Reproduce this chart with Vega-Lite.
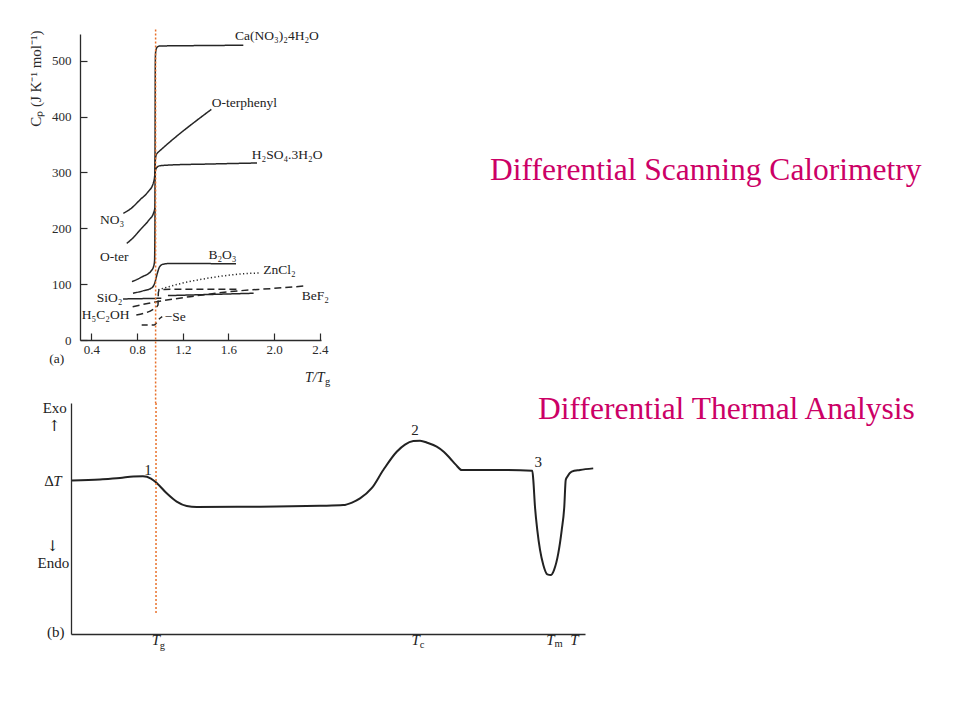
{
  "$schema": "https://vega.github.io/schema/vega-lite/v6.json",
  "padding": {"left": 27, "top": 28, "right": 10, "bottom": 10},
  "background": "white",
  "bounds": "flush",
  "spacing": 63,
  "config": {
    "view": {"stroke": null},
    "font": "Liberation Serif",
    "axis": {"labelFont": "Liberation Serif", "titleFont": "Liberation Serif", "domainColor": "#2a2a2a", "tickColor": "#2a2a2a", "labelColor": "#2a2a2a", "titleColor": "#2a2a2a", "grid": false, "domainWidth": 1.3, "tickWidth": 1.2},
    "text": {"font": "Liberation Serif", "color": "#222222"}
  },
  "datasets": {
    "cp": [
      {"series": "Ca(NO3)2·4H2O", "T": 0.679, "Cp": 227},
      {"series": "Ca(NO3)2·4H2O", "T": 0.75, "Cp": 236},
      {"series": "Ca(NO3)2·4H2O", "T": 0.825, "Cp": 251},
      {"series": "Ca(NO3)2·4H2O", "T": 0.89, "Cp": 264},
      {"series": "Ca(NO3)2·4H2O", "T": 0.942, "Cp": 281},
      {"series": "Ca(NO3)2·4H2O", "T": 0.955, "Cp": 296},
      {"series": "Ca(NO3)2·4H2O", "T": 0.957, "Cp": 340},
      {"series": "Ca(NO3)2·4H2O", "T": 0.958, "Cp": 420},
      {"series": "Ca(NO3)2·4H2O", "T": 0.959, "Cp": 490},
      {"series": "Ca(NO3)2·4H2O", "T": 0.961, "Cp": 512},
      {"series": "Ca(NO3)2·4H2O", "T": 0.966, "Cp": 520},
      {"series": "Ca(NO3)2·4H2O", "T": 0.978, "Cp": 525},
      {"series": "Ca(NO3)2·4H2O", "T": 1.0, "Cp": 526.5},
      {"series": "Ca(NO3)2·4H2O", "T": 1.2, "Cp": 527},
      {"series": "Ca(NO3)2·4H2O", "T": 1.5, "Cp": 527.5},
      {"series": "Ca(NO3)2·4H2O", "T": 1.73, "Cp": 528},
      {"series": "o-terphenyl", "T": 0.709, "Cp": 173},
      {"series": "o-terphenyl", "T": 0.77, "Cp": 184},
      {"series": "o-terphenyl", "T": 0.825, "Cp": 197},
      {"series": "o-terphenyl", "T": 0.9, "Cp": 214},
      {"series": "o-terphenyl", "T": 0.945, "Cp": 228},
      {"series": "o-terphenyl", "T": 0.955, "Cp": 236},
      {"series": "o-terphenyl", "T": 0.957, "Cp": 280},
      {"series": "o-terphenyl", "T": 0.959, "Cp": 320},
      {"series": "o-terphenyl", "T": 0.965, "Cp": 330},
      {"series": "o-terphenyl", "T": 0.978, "Cp": 335},
      {"series": "o-terphenyl", "T": 0.994, "Cp": 338},
      {"series": "o-terphenyl", "T": 1.45, "Cp": 413},
      {"series": "H2SO4·3H2O", "T": 0.956, "Cp": 290},
      {"series": "H2SO4·3H2O", "T": 0.958, "Cp": 300},
      {"series": "H2SO4·3H2O", "T": 0.964, "Cp": 306},
      {"series": "H2SO4·3H2O", "T": 0.978, "Cp": 310},
      {"series": "H2SO4·3H2O", "T": 1.0, "Cp": 312},
      {"series": "H2SO4·3H2O", "T": 1.1, "Cp": 313.5},
      {"series": "H2SO4·3H2O", "T": 1.4, "Cp": 315},
      {"series": "H2SO4·3H2O", "T": 1.85, "Cp": 317},
      {"series": "glass branch", "T": 0.755, "Cp": 104.5},
      {"series": "glass branch", "T": 0.843, "Cp": 113},
      {"series": "glass branch", "T": 0.924, "Cp": 124},
      {"series": "glass branch", "T": 0.945, "Cp": 132},
      {"series": "glass branch", "T": 0.953, "Cp": 142},
      {"series": "glass branch", "T": 0.956, "Cp": 200},
      {"series": "glass branch", "T": 0.957, "Cp": 236},
      {"series": "B2O3", "T": 0.764, "Cp": 83.7},
      {"series": "B2O3", "T": 0.85, "Cp": 88},
      {"series": "B2O3", "T": 0.924, "Cp": 92.7},
      {"series": "B2O3", "T": 0.954, "Cp": 101.6},
      {"series": "B2O3", "T": 0.977, "Cp": 119.5},
      {"series": "B2O3", "T": 0.998, "Cp": 131.4},
      {"series": "B2O3", "T": 1.027, "Cp": 135.7},
      {"series": "B2O3", "T": 1.088, "Cp": 137},
      {"series": "B2O3", "T": 1.666, "Cp": 136.5},
      {"series": "ZnCl2", "T": 0.985, "Cp": 90},
      {"series": "ZnCl2", "T": 1.2, "Cp": 102},
      {"series": "ZnCl2", "T": 1.4, "Cp": 110},
      {"series": "ZnCl2", "T": 1.6, "Cp": 116},
      {"series": "ZnCl2", "T": 1.8, "Cp": 119.5},
      {"series": "ZnCl2", "T": 1.88, "Cp": 120},
      {"series": "SiO2", "T": 0.677, "Cp": 73.5},
      {"series": "SiO2", "T": 1.012, "Cp": 74.7},
      {"series": "SiO2 liquid", "T": 1.07, "Cp": 79.5},
      {"series": "SiO2 liquid", "T": 1.82, "Cp": 83.7},
      {"series": "BeF2", "T": 0.761, "Cp": 59.7},
      {"series": "BeF2", "T": 0.957, "Cp": 68},
      {"series": "BeF2", "T": 1.263, "Cp": 77.6},
      {"series": "BeF2", "T": 1.613, "Cp": 86.6},
      {"series": "BeF2", "T": 2.0, "Cp": 92.5},
      {"series": "BeF2", "T": 2.27, "Cp": 96.8},
      {"series": "H5C2OH", "T": 0.793, "Cp": 44.8},
      {"series": "H5C2OH", "T": 0.954, "Cp": 56.8},
      {"series": "H5C2OH", "T": 0.983, "Cp": 62.7},
      {"series": "H5C2OH", "T": 0.986, "Cp": 85},
      {"series": "H5C2OH", "T": 0.995, "Cp": 90},
      {"series": "H5C2OH", "T": 1.1, "Cp": 91},
      {"series": "H5C2OH", "T": 1.67, "Cp": 91},
      {"series": "Se", "T": 0.84, "Cp": 26.9},
      {"series": "Se", "T": 0.95, "Cp": 26.9},
      {"series": "Se", "T": 0.97, "Cp": 31},
      {"series": "Se", "T": 0.985, "Cp": 35.8},
      {"series": "Se", "T": 1.02, "Cp": 42}
    ],
    "cpTg": [{"event": "Tg", "T": 0.962, "Cp": 556, "Cp_end": -113}],
    "cpLabels": [
      {"T": 1.657, "Cp": 544.8, "text": "Ca(NO₃)₂4H₂O"},
      {"T": 1.453, "Cp": 424, "text": "O-terphenyl"},
      {"T": 1.803, "Cp": 331.5, "text": "H₂SO₄.3H₂O"},
      {"T": 0.475, "Cp": 215, "text": "NO₃"},
      {"T": 0.475, "Cp": 148.7, "text": "O-ter"},
      {"T": 1.424, "Cp": 152.3, "text": "B₂O₃"},
      {"T": 1.905, "Cp": 125.4, "text": "ZnCl₂"},
      {"T": 0.446, "Cp": 75.3, "text": "SiO₂"},
      {"T": 2.241, "Cp": 78.9, "text": "BeF₂"},
      {"T": 0.315, "Cp": 44.8, "text": "H₅C₂OH"},
      {"T": 1.042, "Cp": 41.2, "text": "−Se"},
      {"T": 0.031, "Cp": -34, "text": "(a)"}
    ],
    "cpItalic": [{"T": 2.27, "Cp": -68, "text": "T/T"}],
    "cpSub": [{"T": 2.445, "Cp": -76, "text": "g"}],
    "cpHeading": [{"T": 3.89, "Cp": 286.7, "text": "Differential Scanning Calorimetry"}],
    "dta": [
      {"t": 0.2, "d": 66.4}, {"t": 5.64, "d": 66.9}, {"t": 9.53, "d": 67.5}, {"t": 12.12, "d": 68.2},
      {"t": 14.0, "d": 68.3}, {"t": 15.56, "d": 67.3}, {"t": 16.67, "d": 65.4}, {"t": 18.62, "d": 60.9},
      {"t": 20.56, "d": 57.3}, {"t": 22.51, "d": 55.4}, {"t": 24.46, "d": 55.0}, {"t": 36.77, "d": 55.1},
      {"t": 48.44, "d": 55.5}, {"t": 52.98, "d": 55.8}, {"t": 54.67, "d": 56.9}, {"t": 56.23, "d": 58.7},
      {"t": 58.5, "d": 63.1}, {"t": 60.76, "d": 71.0}, {"t": 63.37, "d": 78.9}, {"t": 64.98, "d": 82.0},
      {"t": 66.6, "d": 83.5}, {"t": 67.9, "d": 83.7}, {"t": 69.46, "d": 82.7}, {"t": 71.15, "d": 81.1},
      {"t": 72.57, "d": 78.8}, {"t": 73.74, "d": 76.1}, {"t": 74.9, "d": 73.2}, {"t": 76.01, "d": 71.0},
      {"t": 83.46, "d": 71.0}, {"t": 89.75, "d": 70.7}, {"t": 89.94, "d": 66.7}, {"t": 90.27, "d": 55.1},
      {"t": 90.72, "d": 45.0}, {"t": 91.25, "d": 36.4}, {"t": 91.89, "d": 29.9}, {"t": 92.67, "d": 25.8},
      {"t": 93.33, "d": 25.5}, {"t": 93.97, "d": 27.7}, {"t": 94.8, "d": 34.9}, {"t": 95.47, "d": 45.0},
      {"t": 95.97, "d": 55.1}, {"t": 96.25, "d": 66.7}, {"t": 96.56, "d": 68.1}, {"t": 97.41, "d": 70.3},
      {"t": 99.03, "d": 71.0}, {"t": 101.6, "d": 71.7}
    ],
    "dtaTg": [{"event": "Tg", "t": 16.54, "d": 100, "d_end": 8.2}],
    "dtaLabels": [
      {"t": -3.17, "d": 97.7, "text": "Exo"},
      {"t": -3.44, "d": 30.6, "text": "Endo"},
      {"t": -2.96, "d": 0.65, "text": "(b)"},
      {"t": 14.98, "d": 71.0, "text": "1"},
      {"t": 66.93, "d": 88.3, "text": "2"},
      {"t": 90.92, "d": 74.5, "text": "3"},
      {"t": -4.28, "d": 66.2, "text": "Δ"}
    ],
    "dtaArrows": [
      {"t": -3.27, "d": 90.0, "text": "↑"},
      {"t": -3.6, "d": 38.2, "text": "↓"}
    ],
    "dtaItalic": [
      {"t": -2.63, "d": 66.2, "text": "T"},
      {"t": 16.5, "d": -2.6, "text": "T"},
      {"t": 67.08, "d": -2.6, "text": "T"},
      {"t": 93.25, "d": -2.6, "text": "T"},
      {"t": 97.96, "d": -2.6, "text": "T"}
    ],
    "dtaSub": [
      {"t": 17.8, "d": -5.0, "text": "g"},
      {"t": 68.3, "d": -4.8, "text": "c"},
      {"t": 94.88, "d": -4.3, "text": "m"}
    ],
    "dtaHeading": [{"t": 90.86, "d": 92.9, "text": "Differential Thermal Analysis"}]
  },
  "vconcat": [
    {
      "width": 241,
      "height": 306,
      "encoding": {
        "x": {"field": "T", "type": "quantitative",
          "scale": {"domain": [0.3, 2.41], "nice": false, "zero": false},
          "axis": {"values": [0.4, 0.8, 1.2, 1.6, 2.0, 2.4], "format": ".1f", "title": null, "tickSize": -7, "labelPadding": 10, "labelFontSize": 13}},
        "y": {"field": "Cp", "type": "quantitative",
          "scale": {"domain": [0, 548], "nice": false, "zero": false},
          "axis": {"values": [0, 100, 200, 300, 400, 500], "tickSize": -7, "labelPadding": 16, "labelFontSize": 13,
            "title": "Cₚ (J K⁻¹ mol⁻¹)", "titleFontSize": 15, "titleFontWeight": "normal", "titleAnchor": "end", "titleAngle": -90, "titleX": -37, "titleY": -4}}
      },
      "layer": [
        {
          "data": {"name": "cp"},
          "mark": {"type": "line", "strokeWidth": 1.5, "color": "#262626", "interpolate": "monotone"},
          "encoding": {
            "detail": {"field": "series"},
            "strokeDash": {"field": "series", "type": "nominal", "legend": null,
              "scale": {"domain": ["Ca(NO3)2·4H2O", "o-terphenyl", "H2SO4·3H2O", "glass branch", "B2O3", "SiO2", "SiO2 liquid", "ZnCl2", "BeF2", "H5C2OH", "Se"],
                "range": [[1, 0], [1, 0], [1, 0], [1, 0], [1, 0], [1, 0], [1, 0], [1.2, 2.4], [7, 4], [7, 4], [6, 4]]}}
          }
        },
        {
          "data": {"name": "cpTg"},
          "mark": {"type": "rule", "color": "#e8702a", "strokeWidth": 1.5, "strokeDash": [2, 2]},
          "encoding": {"y2": {"field": "Cp_end"}}
        },
        {
          "data": {"name": "cpLabels"},
          "mark": {"type": "text", "align": "left", "baseline": "middle", "fontSize": 13.5},
          "encoding": {"text": {"field": "text"}}
        },
        {
          "data": {"name": "cpItalic"},
          "mark": {"type": "text", "align": "left", "baseline": "middle", "fontSize": 14, "fontStyle": "italic"},
          "encoding": {"text": {"field": "text"}}
        },
        {
          "data": {"name": "cpSub"},
          "mark": {"type": "text", "align": "left", "baseline": "middle", "fontSize": 10.5},
          "encoding": {"text": {"field": "text"}}
        },
        {
          "data": {"name": "cpHeading"},
          "mark": {"type": "text", "align": "left", "baseline": "alphabetic", "fontSize": 31.5, "color": "#cc0066"},
          "encoding": {"text": {"field": "text"}}
        }
      ]
    },
    {
      "width": 505,
      "height": 231,
      "encoding": {
        "x": {"field": "t", "type": "quantitative",
          "scale": {"domain": [0, 100], "range": [-9, 505], "nice": false, "zero": false},
          "axis": {"ticks": false, "labels": false, "title": null}},
        "y": {"field": "d", "type": "quantitative",
          "scale": {"domain": [0, 100], "nice": false, "zero": false},
          "axis": {"ticks": false, "labels": false, "title": null, "offset": 9}}
      },
      "layer": [
        {
          "data": {"name": "dta"},
          "mark": {"type": "line", "strokeWidth": 2, "color": "#222222", "interpolate": "monotone"},
          "encoding": {}
        },
        {
          "data": {"name": "dtaTg"},
          "mark": {"type": "rule", "color": "#e8702a", "strokeWidth": 1.5, "strokeDash": [2, 2]},
          "encoding": {"y2": {"field": "d_end"}}
        },
        {
          "data": {"name": "dtaLabels"},
          "mark": {"type": "text", "align": "center", "baseline": "middle", "fontSize": 15},
          "encoding": {"text": {"field": "text"}}
        },
        {
          "data": {"name": "dtaArrows"},
          "mark": {"type": "text", "align": "center", "baseline": "middle", "fontSize": 15, "font": "DejaVu Serif", "color": "#222222"},
          "encoding": {"text": {"field": "text"}}
        },
        {
          "data": {"name": "dtaItalic"},
          "mark": {"type": "text", "align": "center", "baseline": "middle", "fontSize": 15, "fontStyle": "italic"},
          "encoding": {"text": {"field": "text"}}
        },
        {
          "data": {"name": "dtaSub"},
          "mark": {"type": "text", "align": "center", "baseline": "middle", "fontSize": 10.5},
          "encoding": {"text": {"field": "text"}}
        },
        {
          "data": {"name": "dtaHeading"},
          "mark": {"type": "text", "align": "left", "baseline": "alphabetic", "fontSize": 31.5, "color": "#cc0066"},
          "encoding": {"text": {"field": "text"}}
        }
      ]
    }
  ]
}
